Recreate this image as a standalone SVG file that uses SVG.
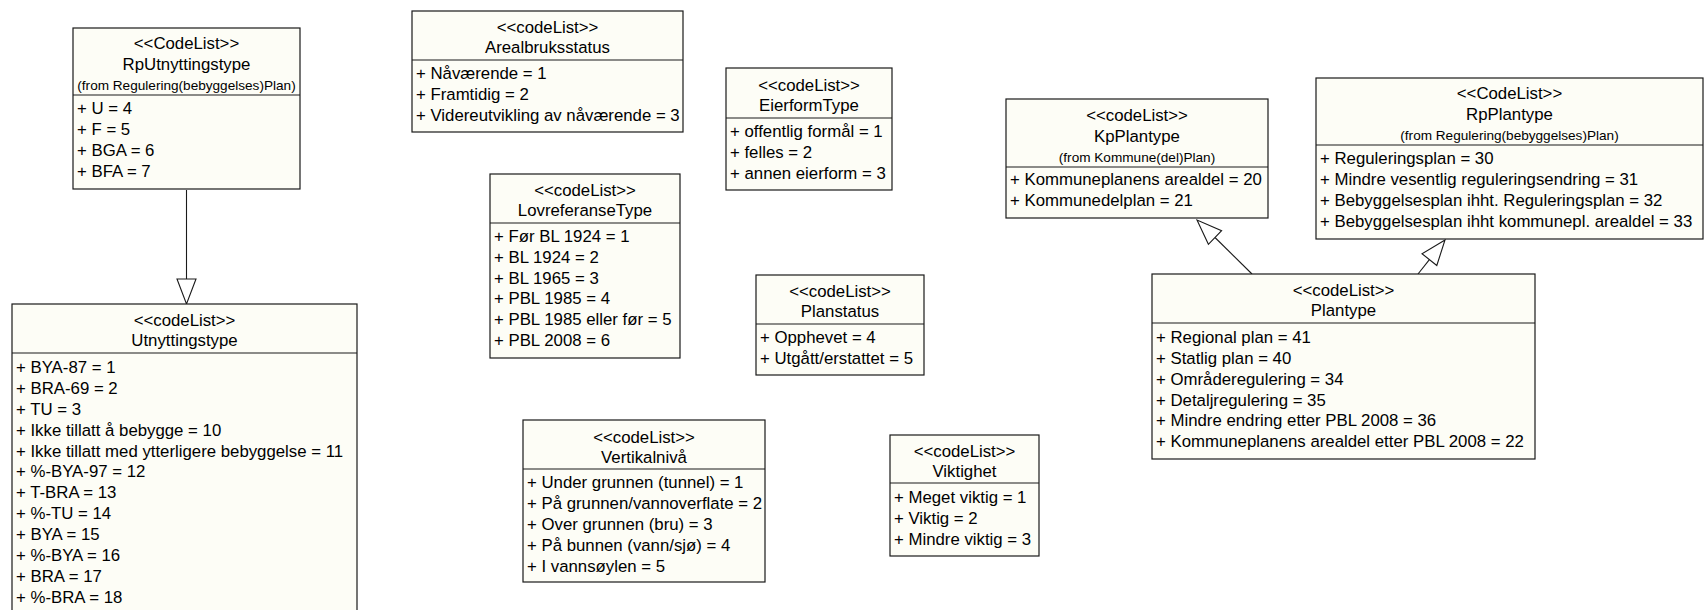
<svg xmlns="http://www.w3.org/2000/svg" width="1704" height="610" viewBox="0 0 1704 610">
<style>
.box{fill:#fdfdf6;stroke:#1a1a1a;stroke-width:1.2}
.sep{stroke:#1a1a1a;stroke-width:1.2}
text{font-family:"Liberation Sans",Arial,sans-serif;font-size:16.8px;fill:#000}
.t{text-anchor:middle}
.f{font-size:13.6px;text-anchor:middle}
.edge{stroke:#1a1a1a;stroke-width:1.1;fill:none}
.head{fill:#fff;stroke:#1a1a1a;stroke-width:1.1}
</style>
<rect width="1704" height="610" fill="#fff"/>
<g id="connectors">
<line class="edge" x1="186.5" y1="190" x2="186.5" y2="279"/>
<polygon class="head" points="177,279 196,279 186.5,304"/>
<line class="edge" x1="1252" y1="274" x2="1215" y2="237.5"/>
<polygon class="head" points="1197,220 1208.4,244.3 1221.6,230.7"/>
<line class="edge" x1="1418" y1="274" x2="1429.4" y2="259.6"/>
<polygon class="head" points="1445,240 1422,253.7 1436.8,265.5"/>
</g>
<g id="RpUtnyttingstype">
<rect class="box" x="73" y="28" width="227" height="161"/>
<line class="sep" x1="73" y1="95" x2="300" y2="95"/>
<text class="t" x="186.5" y="49">&lt;&lt;CodeList&gt;&gt;</text>
<text class="t" x="186.5" y="70">RpUtnyttingstype</text>
<text class="f" x="186.5" y="90">(from Regulering(bebyggelses)Plan)</text>
<text x="77" y="114">+ U = 4</text>
<text x="77" y="135">+ F = 5</text>
<text x="77" y="156">+ BGA = 6</text>
<text x="77" y="177">+ BFA = 7</text>
</g>
<g id="Utnyttingstype">
<rect class="box" x="12" y="304" width="345" height="340"/>
<line class="sep" x1="12" y1="353" x2="357" y2="353"/>
<text class="t" x="184.5" y="326">&lt;&lt;codeList&gt;&gt;</text>
<text class="t" x="184.5" y="346">Utnyttingstype</text>
<text x="16" y="373">+ BYA-87 = 1</text>
<text x="16" y="394">+ BRA-69 = 2</text>
<text x="16" y="415">+ TU = 3</text>
<text x="16" y="436">+ Ikke tillatt å bebygge = 10</text>
<text x="16" y="457">+ Ikke tillatt med ytterligere bebyggelse = 11</text>
<text x="16" y="477">+ %-BYA-97 = 12</text>
<text x="16" y="498">+ T-BRA = 13</text>
<text x="16" y="519">+ %-TU = 14</text>
<text x="16" y="540">+ BYA = 15</text>
<text x="16" y="561">+ %-BYA = 16</text>
<text x="16" y="582">+ BRA = 17</text>
<text x="16" y="603">+ %-BRA = 18</text>
</g>
<g id="Arealbruksstatus">
<rect class="box" x="412" y="11" width="271" height="121"/>
<line class="sep" x1="412" y1="60" x2="683" y2="60"/>
<text class="t" x="547.5" y="33">&lt;&lt;codeList&gt;&gt;</text>
<text class="t" x="547.5" y="53">Arealbruksstatus</text>
<text x="416" y="79">+ Nåværende = 1</text>
<text x="416" y="100">+ Framtidig = 2</text>
<text x="416" y="121">+ Videreutvikling av nåværende = 3</text>
</g>
<g id="EierformType">
<rect class="box" x="726" y="68" width="166" height="122"/>
<line class="sep" x1="726" y1="118" x2="892" y2="118"/>
<text class="t" x="809" y="91">&lt;&lt;codeList&gt;&gt;</text>
<text class="t" x="809" y="111">EierformType</text>
<text x="730" y="137">+ offentlig formål = 1</text>
<text x="730" y="158">+ felles = 2</text>
<text x="730" y="179">+ annen eierform = 3</text>
</g>
<g id="LovreferanseType">
<rect class="box" x="490" y="174" width="190" height="184"/>
<line class="sep" x1="490" y1="223" x2="680" y2="223"/>
<text class="t" x="585" y="196">&lt;&lt;codeList&gt;&gt;</text>
<text class="t" x="585" y="216">LovreferanseType</text>
<text x="494" y="242">+ Før BL 1924 = 1</text>
<text x="494" y="263">+ BL 1924 = 2</text>
<text x="494" y="284">+ BL 1965 = 3</text>
<text x="494" y="304">+ PBL 1985 = 4</text>
<text x="494" y="325">+ PBL 1985 eller før = 5</text>
<text x="494" y="346">+ PBL 2008 = 6</text>
</g>
<g id="Planstatus">
<rect class="box" x="756" y="275" width="168" height="100"/>
<line class="sep" x1="756" y1="324" x2="924" y2="324"/>
<text class="t" x="840" y="297">&lt;&lt;codeList&gt;&gt;</text>
<text class="t" x="840" y="317">Planstatus</text>
<text x="760" y="343">+ Opphevet = 4</text>
<text x="760" y="364">+ Utgått/erstattet = 5</text>
</g>
<g id="Vertikalniva">
<rect class="box" x="523" y="420" width="242" height="162"/>
<line class="sep" x1="523" y1="469" x2="765" y2="469"/>
<text class="t" x="644" y="443">&lt;&lt;codeList&gt;&gt;</text>
<text class="t" x="644" y="463">Vertikalnivå</text>
<text x="527" y="488">+ Under grunnen (tunnel) = 1</text>
<text x="527" y="509">+ På grunnen/vannoverflate = 2</text>
<text x="527" y="530">+ Over grunnen (bru) = 3</text>
<text x="527" y="551">+ På bunnen (vann/sjø) = 4</text>
<text x="527" y="572">+ I vannsøylen = 5</text>
</g>
<g id="Viktighet">
<rect class="box" x="890" y="435" width="149" height="121"/>
<line class="sep" x1="890" y1="483" x2="1039" y2="483"/>
<text class="t" x="964.5" y="457">&lt;&lt;codeList&gt;&gt;</text>
<text class="t" x="964.5" y="477">Viktighet</text>
<text x="894" y="503">+ Meget viktig = 1</text>
<text x="894" y="524">+ Viktig = 2</text>
<text x="894" y="545">+ Mindre viktig = 3</text>
</g>
<g id="KpPlantype">
<rect class="box" x="1006" y="99" width="262" height="119"/>
<line class="sep" x1="1006" y1="167" x2="1268" y2="167"/>
<text class="t" x="1137" y="121">&lt;&lt;codeList&gt;&gt;</text>
<text class="t" x="1137" y="142">KpPlantype</text>
<text class="f" x="1137" y="162">(from Kommune(del)Plan)</text>
<text x="1010" y="185">+ Kommuneplanens arealdel = 20</text>
<text x="1010" y="206">+ Kommunedelplan = 21</text>
</g>
<g id="RpPlantype">
<rect class="box" x="1316" y="78" width="387" height="161"/>
<line class="sep" x1="1316" y1="145" x2="1703" y2="145"/>
<text class="t" x="1509.5" y="99">&lt;&lt;CodeList&gt;&gt;</text>
<text class="t" x="1509.5" y="120">RpPlantype</text>
<text class="f" x="1509.5" y="140">(from Regulering(bebyggelses)Plan)</text>
<text x="1320" y="164">+ Reguleringsplan = 30</text>
<text x="1320" y="185">+ Mindre vesentlig reguleringsendring = 31</text>
<text x="1320" y="206">+ Bebyggelsesplan ihht. Reguleringsplan = 32</text>
<text x="1320" y="227">+ Bebyggelsesplan ihht kommunepl. arealdel = 33</text>
</g>
<g id="Plantype">
<rect class="box" x="1152" y="274" width="383" height="185"/>
<line class="sep" x1="1152" y1="323" x2="1535" y2="323"/>
<text class="t" x="1343.5" y="296">&lt;&lt;codeList&gt;&gt;</text>
<text class="t" x="1343.5" y="316">Plantype</text>
<text x="1156" y="343">+ Regional plan = 41</text>
<text x="1156" y="364">+ Statlig plan = 40</text>
<text x="1156" y="385">+ Områderegulering = 34</text>
<text x="1156" y="406">+ Detaljregulering = 35</text>
<text x="1156" y="426">+ Mindre endring etter PBL 2008 = 36</text>
<text x="1156" y="447">+ Kommuneplanens arealdel etter PBL 2008 = 22</text>
</g>
</svg>
